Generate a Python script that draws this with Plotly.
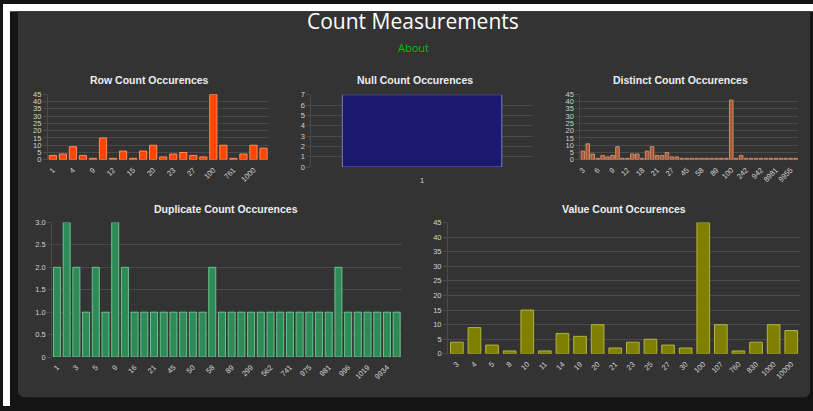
import plotly.graph_objects as go

W, H = 813, 411

# ---------------- data ----------------
row_cats = ["1", "3", "4", "5", "9", "10", "12", "14", "15", "19", "20", "21",
            "23", "25", "27", "30", "100", "107", "761", "830", "1000", "10000"]
row_vals = [3, 4, 9, 3, 1, 15, 1, 6, 1, 6, 10, 2, 4, 5, 3, 2, 45, 10, 1, 4, 10, 8]

null_cats = ["1"]
null_vals = [7]

distinct_cats = ["3", "4", "5", "6", "7", "8", "9", "10", "11", "12", "14", "16",
                 "18", "19", "20", "21", "23", "25", "27", "30", "38", "45", "50",
                 "55", "58", "60", "70", "89", "95", "99", "100", "107", "200",
                 "242", "300", "600", "942", "1000", "5000", "8981", "9000",
                 "9500", "9955", "10000"]
distinct_vals = [6, 11, 4, 1, 3, 2, 3, 9, 1, 1, 4, 4, 1, 6, 9, 3, 3, 5, 2, 2,
                 1, 1, 1, 1, 1, 1, 1, 1, 1, 1, 41, 1, 3, 1, 1, 1, 1, 1, 1, 1,
                 1, 1, 1, 1]

dup_cats = ["1", "2", "3", "4", "5", "8", "9", "10", "16", "20", "21", "30",
            "45", "47", "50", "51", "58", "60", "89", "100", "299", "300",
            "562", "600", "741", "760", "975", "980", "981", "990", "996",
            "1000", "1019", "1100", "9934", "10000"]
dup_vals = [2, 3, 2, 1, 2, 1, 3, 2, 1, 1, 1, 1, 1, 1, 1, 1, 2, 1, 1, 1, 1, 1,
            1, 1, 1, 1, 1, 1, 1, 2, 1, 1, 1, 1, 1, 1]

value_cats = ["3", "4", "5", "8", "10", "11", "14", "19", "20", "21", "23", "25",
              "27", "30", "100", "107", "760", "830", "1000", "10000"]
value_vals = [4, 9, 3, 1, 15, 1, 7, 6, 10, 2, 4, 5, 3, 2, 45, 10, 1, 4, 10, 8]

titles = ["Row Count Occurences", "Null Count Occurences", "Distinct Count Occurences",
          "Duplicate Count Occurences", "Value Count Occurences"]

# ---------------- helpers (window pixel -> paper) ----------------
def px(x):
    return x / W

def py(y):
    return 1 - y / H

GRID = "#4a4a4a"
TICK = "#d2d2d2"
TFONT = dict(family="Liberation Sans, Arial, sans-serif", size=7.5, color=TICK)

fig = go.Figure()

panels = [
    # cats, vals, fill, line, x0, x1, ytop, ybot, ymax, dtick, label step, angle
    (row_cats, row_vals, "#ff4500", "#ff8a5c", 45, 266.5, 92.3, 159.3, 45, 5, 2, -45),
    (null_cats, null_vals, "#191970", "#7a7ac0", 309.5, 531.7, 92.7, 166.7, 7, 1, 1, 0),
    (distinct_cats, distinct_vals, "#a65a38", "#d08a68", 579.5, 798, 92.3, 159.3, 45, 5, 3, -45),
    (dup_cats, dup_vals, "#2e8b57", "#6cc48f", 49.3, 400, 223.3, 361, 3, 0.5, 2, -45),
    (value_cats, value_vals, "#808000", "#b4b440", 446.7, 800, 223.3, 357.7, 45, 5, 1, -45),
]

layout_axes = {}
for i, (cats, vals, fill, line, x0, x1, yt, yb, ymax, dt, step, ang) in enumerate(panels, start=1):
    sfx = "" if i == 1 else str(i)
    fig.add_trace(go.Bar(
        x=cats, y=vals, xaxis="x" + sfx, yaxis="y" + sfx,
        marker=dict(color=fill, line=dict(color=line, width=1)),
        showlegend=False, hoverinfo="x+y",
    ))
    tv = cats[::step]
    xa = dict(domain=[px(x0), px(x1)], anchor="y" + sfx, type="category",
              categoryorder="array", categoryarray=cats,
              tickvals=tv, ticktext=tv, tickangle=ang, tickfont=TFONT,
              showgrid=False, zeroline=False, showline=False,
              ticks="outside", ticklen=(6 if ang == 0 else 2),
              tickcolor="rgba(0,0,0,0)", fixedrange=True)
    if dt == 0.5:
        yvals = [0, 0.5, 1, 1.5, 2, 2.5, 3]
        ytext = ["0", "0.5", "1.0", "1.5", "2.0", "2.5", "3.0"]
    else:
        yvals = list(range(0, ymax + 1, dt))
        ytext = [str(v) for v in yvals]
    ya = dict(domain=[py(yb), py(yt)], anchor="x" + sfx, range=[0, ymax],
              tickvals=yvals, ticktext=ytext, tickfont=TFONT,
              showgrid=True, gridcolor=GRID, gridwidth=1, zeroline=False,
              showline=True, linecolor=GRID, linewidth=1,
              ticks="outside", ticklen=4, tickcolor=GRID, fixedrange=True)
    layout_axes["xaxis" + sfx] = xa
    layout_axes["yaxis" + sfx] = ya

fig.update_layout(**layout_axes)

# ---------------- titles ----------------
title_pos = [(147, 78), (414, 78), (680, 78), (224, 210), (623, 210)]
annotations = []
for t, (cx, cy) in zip(titles, title_pos):
    annotations.append(dict(
        text="<b>" + t + "</b>", x=px(cx), y=py(cy), xref="paper", yref="paper",
        showarrow=False, xanchor="center", yanchor="middle",
        font=dict(family="Liberation Sans, Arial, sans-serif", size=10.5, color="#eeeeee"),
    ))
annotations.append(dict(
    text="Count Measurements", x=px(412), y=py(17), xref="paper", yref="paper",
    showarrow=False, xanchor="center", yanchor="middle",
    font=dict(family="Open Sans, sans-serif", size=21, color="#ffffff"),
))
annotations.append(dict(
    text="About", x=px(412), y=py(44), xref="paper", yref="paper",
    showarrow=False, xanchor="center", yanchor="middle",
    font=dict(family="Open Sans, sans-serif", size=11, color="#00c000"),
))

# ---------------- background: page margin, dark body, rounded panel ----------------
def rounded_bottom(x0, y0, x1, y1, r):
    rx, ry = r / W, r / H
    X0, X1 = px(x0), px(x1)
    Y0, Y1 = py(y0), py(y1)
    return (f"M {X0},{Y0} L {X1},{Y0} L {X1},{Y1 + ry} Q {X1},{Y1} {X1 - rx},{Y1} "
            f"L {X0 + rx},{Y1} Q {X0},{Y1} {X0},{Y1 + ry} Z")

shapes = [
    dict(type="rect", xref="paper", yref="paper", x0=0, x1=px(7), y0=0, y1=1,
         fillcolor="#ffffff", line=dict(width=0), layer="below"),
    dict(type="rect", xref="paper", yref="paper", x0=0, x1=1, y0=py(7.5), y1=1,
         fillcolor="#ffffff", line=dict(width=0), layer="below"),
    dict(type="path", xref="paper", yref="paper", path=rounded_bottom(15, 7.5, 810, 402, 7),
         fillcolor="#333333", line=dict(width=0), layer="below"),
]

fig.update_layout(
    width=W, height=H, autosize=False,
    margin=dict(l=0, r=0, t=0, b=0),
    paper_bgcolor="#141414", plot_bgcolor="rgba(0,0,0,0)",
    bargap=0.28,
    annotations=annotations, shapes=shapes,
    font=dict(family="Liberation Sans, Arial, sans-serif"),
)

fig.write_html(
    "out.html",
    config={"displayModeBar": False},
    post_script=("document.documentElement.style.overflow='hidden';"
                 "document.body.style.margin='0';"
                 "document.body.style.overflow='hidden';"),
)
